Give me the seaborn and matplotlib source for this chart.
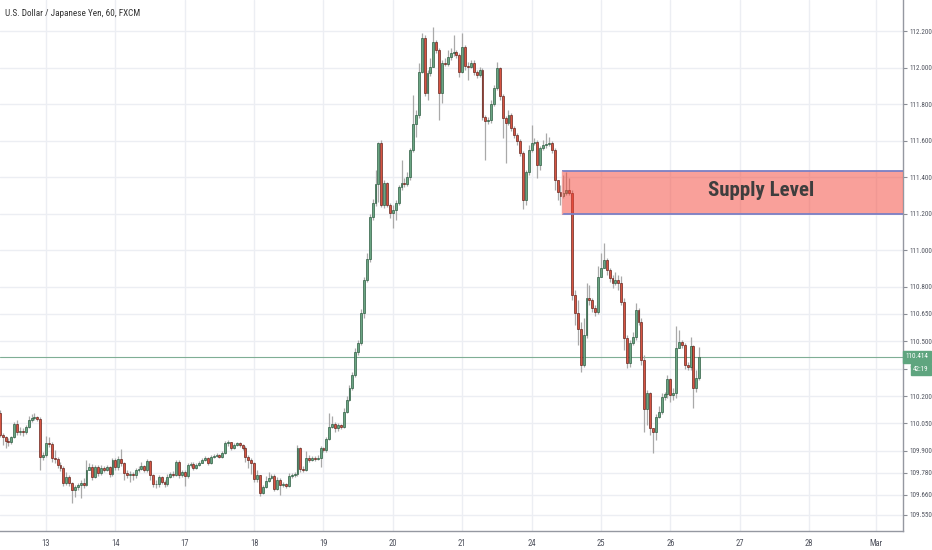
import numpy as np
import pandas as pd
import matplotlib
matplotlib.use("Agg")
import matplotlib.pyplot as plt
from matplotlib.patches import Rectangle
from matplotlib import font_manager
import seaborn as sns

# ---------------- data (USD/JPY, 60 min candles) ----------------
first_open = 110.107

close_12 = [109.986,109.976,109.954,109.948,109.976,110.047,110.003,110.008,110.003,110.030,110.069,110.080,110.085,110.074,109.866,109.877]
close_13 = [109.943,109.937,109.861,109.855,109.822,109.806,109.723,109.756,109.723,109.685,109.701,109.712,109.723,109.712,109.795,109.811,109.756,109.811,109.778,109.806,109.795,109.811,109.773,109.850]
close_14 = [109.811,109.855,109.833,109.778,109.767,109.773,109.767,109.795,109.800,109.817,109.795,109.844,109.767,109.718,109.718,109.756,109.729,109.718,109.756,109.773,109.767,109.839,109.767,109.784]
close_17 = [109.762,109.822,109.828,109.806,109.822,109.833,109.850,109.861,109.833,109.866,109.871,109.877,109.866,109.888,109.943,109.948,109.915,109.932,109.943,109.932,109.915,109.866,109.850,109.833]
close_18 = [109.745,109.767,109.669,109.701,109.734,109.751,109.762,109.690,109.740,109.712,109.718,109.707,109.762,109.767,109.773,109.915,109.800,109.795,109.861,109.850,109.861,109.855,109.861,109.915]
close_19 = [109.904,109.965,110.030,110.047,110.025,110.041,110.030,110.113,110.178,110.244,110.315,110.441,110.491,110.655,110.836,110.951,111.181,111.258,111.362,111.586,111.247,111.367,111.247,111.203]
close_20 = [111.219,111.258,111.345,111.367,111.362,111.400,111.548,111.691,111.740,111.975,112.162,111.860,111.970,112.003,112.140,112.096,111.860,112.025,112.019,112.058,112.080,112.085,112.069,111.975]
close_21 = [112.112,112.008,112.003,112.025,111.975,111.959,111.986,111.729,111.707,111.712,111.800,111.888,111.997,111.844,111.723,111.696,111.740,111.669,111.630,111.597,111.532,111.274,111.427,111.548]
close_24 = [111.586,111.592,111.466,111.559,111.575,111.581,111.586,111.548,111.384,111.318,111.296,111.312,111.329,111.312,110.754,110.655,110.567,110.370,110.534,110.737,110.726,110.682,110.660,110.852]
close_25 = [110.902,110.945,110.891,110.847,110.819,110.836,110.819,110.715,110.518,110.381,110.491,110.523,110.671,110.606,110.397,110.129,110.217,110.025,110.003,110.085,110.113,110.195,110.211,110.293]
close_26 = [110.206,110.217,110.463,110.496,110.480,110.370,110.359,110.474,110.244,110.299,110.414]

high_12 = [110.123,109.997,109.981,109.970,109.981,110.058,110.069,110.030,110.025,110.041,110.091,110.102,110.107,110.091,110.085,109.893]
high_13 = [109.981,109.976,109.948,109.904,109.866,109.839,109.817,109.784,109.767,109.729,109.712,109.723,109.740,109.751,109.850,109.833,109.828,109.822,109.822,109.822,109.817,109.822,109.817,109.861]
high_14 = [109.861,109.871,109.910,109.839,109.795,109.789,109.784,109.806,109.817,109.839,109.822,109.855,109.850,109.773,109.740,109.767,109.762,109.740,109.773,109.784,109.789,109.850,109.850,109.795]
high_17 = [109.795,109.833,109.839,109.839,109.833,109.844,109.861,109.871,109.866,109.877,109.882,109.888,109.882,109.899,109.954,109.959,109.948,109.943,109.948,109.948,109.937,109.926,109.877,109.861]
high_18 = [109.839,109.795,109.767,109.712,109.762,109.784,109.773,109.773,109.756,109.751,109.729,109.723,109.778,109.778,109.784,109.932,109.921,109.817,109.899,109.877,109.871,109.871,109.877,109.926]
high_19 = [109.921,109.976,110.107,110.091,110.058,110.052,110.047,110.134,110.200,110.261,110.332,110.463,110.507,110.677,110.852,110.984,111.197,111.279,111.438,111.592,111.603,111.384,111.373,111.258]
high_20 = [111.247,111.274,111.356,111.493,111.395,111.427,111.559,111.849,111.767,112.025,112.189,112.178,111.986,112.052,112.222,112.151,112.107,112.041,112.052,112.096,112.107,112.178,112.096,112.080]
high_21 = [112.189,112.123,112.030,112.041,112.041,111.986,112.003,111.997,111.740,111.729,111.822,111.904,112.030,112.003,111.855,111.734,111.767,111.751,111.680,111.641,111.608,111.543,111.438,111.575]
high_24 = [111.685,111.614,111.603,111.570,111.603,111.641,111.619,111.597,111.559,111.384,111.356,111.411,111.427,111.395,111.329,110.781,110.726,110.606,110.628,110.819,110.808,110.737,110.699,110.913]
high_25 = [110.984,111.038,110.956,110.902,110.863,110.880,110.863,110.858,110.737,110.534,110.507,110.551,110.710,110.682,110.628,110.425,110.233,110.222,110.025,110.102,110.145,110.217,110.222,110.315]
high_26 = [110.299,110.244,110.584,110.562,110.507,110.491,110.386,110.523,110.480,110.343,110.469]

low_12 = [109.976,109.932,109.915,109.926,109.937,109.970,109.986,109.986,109.981,109.992,110.025,110.058,110.069,110.063,109.795,109.850]
low_13 = [109.866,109.921,109.839,109.833,109.806,109.789,109.707,109.712,109.707,109.614,109.647,109.685,109.641,109.696,109.707,109.795,109.740,109.751,109.762,109.767,109.784,109.789,109.756,109.762]
low_14 = [109.795,109.795,109.817,109.740,109.751,109.729,109.740,109.751,109.784,109.795,109.784,109.784,109.740,109.701,109.696,109.701,109.718,109.701,109.707,109.751,109.756,109.762,109.751,109.756]
low_17 = [109.707,109.751,109.811,109.795,109.800,109.817,109.833,109.844,109.822,109.828,109.861,109.866,109.861,109.861,109.882,109.926,109.904,109.910,109.926,109.921,109.904,109.839,109.806,109.773]
low_18 = [109.729,109.729,109.652,109.663,109.696,109.729,109.745,109.680,109.685,109.658,109.701,109.696,109.701,109.751,109.756,109.762,109.784,109.784,109.789,109.839,109.844,109.844,109.850,109.811]
low_19 = [109.893,109.893,109.959,110.025,110.003,110.008,110.019,110.025,110.107,110.173,110.233,110.304,110.425,110.480,110.628,110.825,110.936,111.164,111.241,111.263,111.236,111.230,111.236,111.175]
low_20 = [111.121,111.164,111.247,111.329,111.345,111.351,111.384,111.537,111.619,111.723,111.970,111.844,111.822,111.954,112.003,112.080,111.712,111.806,112.008,112.008,112.041,112.063,112.052,111.948]
low_21 = [111.970,111.986,111.932,111.997,111.959,111.943,111.948,111.712,111.493,111.691,111.696,111.789,111.877,111.822,111.614,111.477,111.685,111.652,111.614,111.575,111.515,111.225,111.247,111.411]
low_24 = [111.537,111.575,111.395,111.438,111.548,111.559,111.570,111.532,111.329,111.274,111.247,111.285,111.301,111.301,110.726,110.589,110.480,110.332,110.359,110.518,110.699,110.660,110.639,110.650]
low_25 = [110.863,110.918,110.863,110.825,110.792,110.808,110.781,110.699,110.452,110.354,110.359,110.480,110.507,110.589,110.370,110.003,110.041,109.986,109.888,109.959,110.080,110.102,110.178,110.189]
low_26 = [110.167,110.178,110.189,110.474,110.463,110.348,110.343,110.343,110.134,110.222,110.288]

day_labels = ["13", "14", "17", "18", "19", "20", "21", "24", "25", "26", "27", "28", "Mar"]
day_bar_index = [16, 40, 64, 88, 112, 136, 160, 184, 208, 232, 256, 280, 303]
price_ticks = [112.200, 112.000, 111.800, 111.600, 111.400, 111.200, 111.000, 110.800,
               110.650, 110.500, 110.350, 110.200, 110.050, 109.900, 109.780, 109.660, 109.550]
supply_low, supply_high = 111.197, 111.433
supply_start_bar = 194.4
last_price = 110.414
countdown = "42:19"
title = "U.S. Dollar / Japanese Yen, 60, FXCM"

# ---------------- build frame ----------------
closes = sum([close_12, close_13, close_14, close_17, close_18, close_19, close_20,
              close_21, close_24, close_25, close_26], [])
highs = sum([high_12, high_13, high_14, high_17, high_18, high_19, high_20,
             high_21, high_24, high_25, high_26], [])
lows = sum([low_12, low_13, low_14, low_17, low_18, low_19, low_20,
            low_21, low_24, low_25, low_26], [])
n = min(len(closes), len(highs), len(lows))
closes, highs, lows = closes[:n], highs[:n], lows[:n]
opens = [first_open] + closes[:-1]
df = pd.DataFrame({"bar": np.arange(n), "open": opens, "high": highs,
                   "low": lows, "close": closes})
df["high"] = df[["high", "open", "close"]].max(axis=1)
df["low"] = df[["low", "open", "close"]].min(axis=1)
df["up"] = df["close"] >= df["open"]

# ---------------- style ----------------
sns.set_theme(style="white")
available = {f.name for f in font_manager.fontManager.ttflist}
narrow = [f for f in ["DejaVu Sans Condensed", "Liberation Sans Narrow", "Roboto Condensed"]
          if f in available]
condensed = bool(narrow)
plt.rcParams["font.family"] = narrow + ["Liberation Sans", "DejaVu Sans"]

W, H = 932, 550
fig = plt.figure(figsize=(W / 100, H / 100), dpi=100)
ax = fig.add_axes([0, 19 / H, 903 / W, 531 / H])
ax.set_facecolor("white")

xl = (0.08, 312.5)
yl = (109.461, 112.370)
ax.set_xlim(*xl)
ax.set_ylim(*yl)

grid_c = "#eceef3"
for b in day_bar_index:
    ax.axvline(b, color=grid_c, lw=1.0, zorder=0)
for p in price_ticks:
    ax.axhline(p, color=grid_c, lw=1.0, zorder=0)

up_c, dn_c = "#6ba583", "#d75442"
up_e, dn_e = "#225437", "#5b1a13"

sns.despine(ax=ax, left=True, top=True, right=False, bottom=False)
# wicks
ax.vlines(df["bar"], df["low"], df["high"], color="#a9a9a9", lw=0.9, zorder=2)
# bodies
for is_up, fc, ec in [(True, up_c, up_e), (False, dn_c, dn_e)]:
    d = df[df["up"] == is_up]
    h = (d["close"] - d["open"]).abs().clip(lower=0.0025)
    b = d[["open", "close"]].min(axis=1)
    ax.bar(d["bar"], h, bottom=b, width=0.66, color=fc, edgecolor=ec,
           linewidth=0.45, zorder=3)

# last price line
ax.axhline(last_price, color="#7fae95", lw=0.8, zorder=1)

# supply zone
ax.add_patch(Rectangle((supply_start_bar, supply_low), xl[1] - supply_start_bar,
                       supply_high - supply_low, facecolor="#f44336", alpha=0.5,
                       edgecolor="none", zorder=4))
ax.hlines([supply_low, supply_high], supply_start_bar, xl[1], color="#7b7fc4",
          lw=1.3, zorder=5)
ax.vlines([supply_start_bar], supply_low, supply_high, color="#f3a5a0", lw=1.0, zorder=5)
ax.text(263.5, (supply_low + supply_high) / 2 + 0.01, "Supply Level", ha="center",
        va="center", fontsize=15 if condensed else 12.5, fontweight="bold",
        color="#3e3e3e", zorder=6)

# axes
ys = 5.1 if condensed else 4.7
ax.yaxis.tick_right()
ax.set_yticks(price_ticks)
ax.set_yticklabels([f"{p:.3f}" for p in price_ticks])
ax.set_xticks(day_bar_index)
ax.set_xticklabels(day_labels)
ax.tick_params(axis="y", which="both", direction="out", length=3, width=0.8,
               colors="#8a8d95", labelsize=ys, labelcolor="#50535e", pad=1.5)
ax.tick_params(axis="x", which="both", direction="out", length=3, width=0.8,
               colors="#8a8d95", labelsize=6.2, labelcolor="#50535e", pad=3)
for s in ["right", "bottom"]:
    ax.spines[s].set_color("#9598a1")
    ax.spines[s].set_linewidth(1.0)
ax.grid(False)

# title
fig.text(5 / W, 1 - 13 / H, title, fontsize=6.6 if condensed else 6.0,
         color="#333333", ha="left", va="center")

# price label and countdown
fig.text(905.5 / W, 1 - 357 / H, f"{last_price:.3f}", fontsize=ys, color="white",
         ha="left", va="center",
         bbox=dict(boxstyle="square,pad=0.35", fc="#5fa57f", ec="#5fa57f"))
fig.text(913 / W, 1 - 369.5 / H, countdown, fontsize=ys, color="white",
         ha="left", va="center",
         bbox=dict(boxstyle="square,pad=0.35", fc="#5fa57f", ec="#5fa57f"))

fig.savefig("out.png", dpi=100, facecolor="white")
